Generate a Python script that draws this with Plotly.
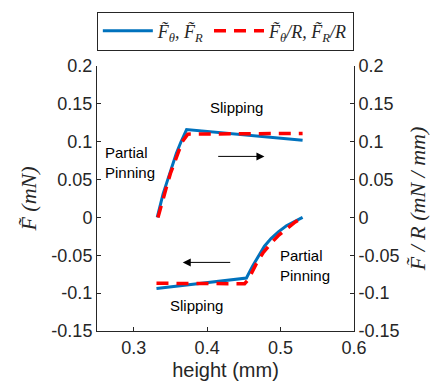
import plotly.graph_objects as go

# Blue: F_theta, F_R  (top branch, then bottom branch; None separates)
blue_x = [0.332, 0.336, 0.340, 0.345, 0.349, 0.354, 0.358, 0.364, 0.372, 0.530, None,
          0.331, 0.4535, 0.462, 0.470, 0.478, 0.487, 0.497, 0.508, 0.519, 0.530]
blue_y = [0.000, 0.016, 0.031, 0.046, 0.058, 0.072, 0.0845, 0.099, 0.116, 0.102, None,
          -0.094, -0.080, -0.064, -0.050, -0.038, -0.028, -0.019, -0.011, -0.005, 0.000]

# Red dashed: F_theta/R, F_R/R
red_x = [0.333, 0.337, 0.341, 0.346, 0.350, 0.355, 0.359, 0.366, 0.3736, 0.530, None,
         0.331, 0.451, 0.456, 0.462, 0.467, 0.476, 0.487, 0.498, 0.510, 0.520, 0.530]
red_y = [0.000, 0.015, 0.030, 0.045, 0.058, 0.071, 0.084, 0.100, 0.110, 0.111, None,
         -0.087, -0.0876, -0.082, -0.070, -0.061, -0.047, -0.034, -0.023, -0.013, -0.006, 0.000]

x_ticks = [0.3, 0.4, 0.5, 0.6]
x_tick_text = ["0.3", "0.4", "0.5", "0.6"]
y_ticks = [-0.15, -0.1, -0.05, 0, 0.05, 0.1, 0.15, 0.2]
y_tick_text = ["-0.15", "-0.1", "-0.05", "0", "0.05", "0.1", "0.15", "0.2"]

axis_col = "#262626"
font_family = "Liberation Sans, Arial, sans-serif"
serif = "Liberation Serif, Times New Roman, serif"

fig = go.Figure()
fig.add_trace(go.Scatter(
    x=blue_x, y=blue_y, mode="lines",
    line=dict(color="#0072BD", width=3),
    name="<i>F̃<sub>θ</sub>, F̃<sub>R</sub></i>",
))
fig.add_trace(go.Scatter(
    x=red_x, y=red_y, mode="lines", yaxis="y2",
    line=dict(color="#FF0000", width=3.5, dash="12px,8px"),
    name="<i>F̃<sub>θ</sub>/R, F̃<sub>R</sub>/R</i>",
))

common_axis = dict(
    showline=True, linecolor=axis_col, linewidth=1,
    ticks="inside", ticklen=4, tickcolor=axis_col,
    showgrid=False, zeroline=False, mirror=False,
    tickfont=dict(size=18, color=axis_col, family=font_family),
)

fig.update_layout(
    width=435, height=388,
    margin=dict(l=97, r=81, t=66, b=57, autoexpand=False),
    paper_bgcolor="white", plot_bgcolor="white",
    font=dict(family=font_family, color=axis_col),
    xaxis=dict(
        range=[0.25, 0.6], tickvals=x_ticks, ticktext=x_tick_text,
        title=dict(text="height (mm)", font=dict(size=20, color=axis_col), standoff=6),
        **common_axis,
    ),
    yaxis=dict(
        range=[-0.15, 0.2], tickvals=y_ticks, ticktext=y_tick_text,
        title=dict(text="<i>F̃ (mN)</i>",
                   font=dict(size=22, color=axis_col, family=serif), standoff=8),
        **common_axis,
    ),
    yaxis2=dict(
        range=[-0.15, 0.2], tickvals=y_ticks, ticktext=y_tick_text,
        overlaying="y", side="right",
        title=dict(text="<i>F̃ / R (mN / mm)</i>",
                   font=dict(size=22, color=axis_col, family=serif), standoff=10),
        **common_axis,
    ),
    legend=dict(
        orientation="h", x=0.518, xanchor="center", xref="container",
        y=0.97, yanchor="top", yref="container",
        bordercolor=axis_col, borderwidth=1,
        font=dict(size=18, color=axis_col, family=serif),
        bgcolor="white", itemwidth=50,
    ),
    showlegend=True,
)

ann_font = dict(size=15, color="#000000", family=font_family)
fig.add_annotation(x=0.44, y=0.145, text="Slipping", showarrow=False, font=ann_font)
fig.add_annotation(x=0.386, y=-0.116, text="Slipping", showarrow=False, font=ann_font)
fig.add_annotation(x=0.258, y=0.0727, text="Partial<br>Pinning", showarrow=False,
                   font=ann_font, xanchor="left", align="left")
fig.add_annotation(x=0.496, y=-0.063, text="Partial<br>Pinning", showarrow=False,
                   font=ann_font, xanchor="left", align="left")
# arrows
fig.add_annotation(x=0.478, y=0.0806, ax=0.413, ay=0.0806, axref="x", ayref="y",
                   xref="x", yref="y", text="", showarrow=True,
                   arrowhead=2, arrowsize=1.6, arrowwidth=1, arrowcolor="#000000")
fig.add_annotation(x=0.3668, y=-0.0594, ax=0.4335, ay=-0.0594, axref="x", ayref="y",
                   xref="x", yref="y", text="", showarrow=True,
                   arrowhead=2, arrowsize=1.6, arrowwidth=1, arrowcolor="#000000")

fig.write_html("out.html")
